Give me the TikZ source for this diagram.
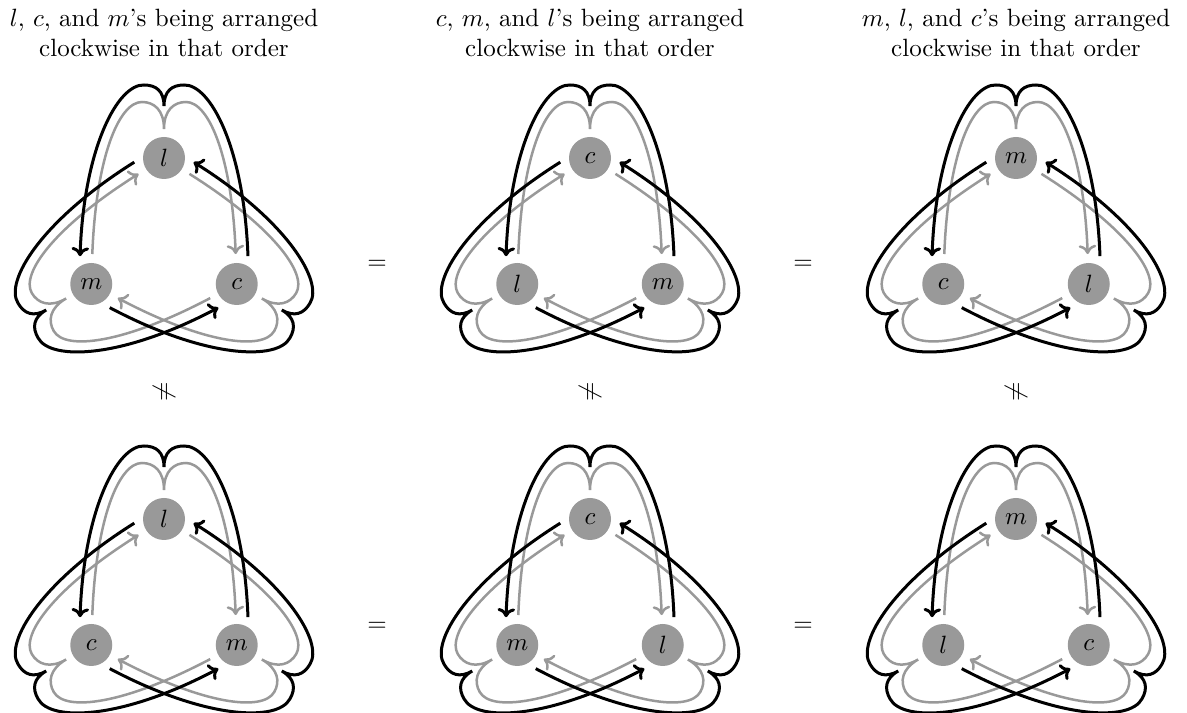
\documentclass[tikz,border=0pt]{standalone}
\usepackage{amsmath,amssymb}
\usepackage{tikz}
\usetikzlibrary{arrows.meta}
\tikzset{
  >={To[length=3.6pt,width=7pt]},
  vertex/.style={circle, fill=black!40, minimum size=16.8pt, inner sep=0pt, outer sep=3.6pt},
  outerline/.style={->, line width=1.2pt, black},
  innerline/.style={->, line width=1pt, black!40},
}
% gray loop from #2 to #3, turned by #1
\newcommand{\innerloop}[3]{%
  \begin{scope}[rotate=#1]
    \pgfmathtruncatemacro{\angS}{88+#1}
    \pgfmathtruncatemacro{\angE}{92+#1}
    \draw[innerline] (#2.\angS) .. controls (-68,85) and (-45,140) .. (-22,140)
                                .. controls (-10,140) and (0,132) .. (0,113)
                                .. controls (0,132) and (10,140) .. (22,140)
                                .. controls (45,140) and (68,85) .. (#3.\angE);
  \end{scope}}
% black loop from #2 to #3, turned by #1
\newcommand{\outerloop}[3]{%
  \begin{scope}[rotate=#1]
    \pgfmathtruncatemacro{\angS}{68+#1}
    \pgfmathtruncatemacro{\angE}{112+#1}
    \draw[outerline] (#2.\angS) .. controls (80,95) and (46,158) .. (20,157)
                                .. controls (8,157) and (0,151) .. (0,136)
                                .. controls (0,151) and (-8,157) .. (-20,157)
                                .. controls (-46,158) and (-80,95) .. (#3.\angE);
  \end{scope}}
% #1 centre, #2 prefix, #3 top, #4 left, #5 right
\newcommand{\ribbon}[5]{%
  \begin{scope}[shift={#1}]
    \node[vertex] (#2t) at ( 90:84) {$#3$};
    \node[vertex] (#2l) at (210:84) {$#4$};
    \node[vertex] (#2r) at (330:84) {$#5$};
    \innerloop{0}{#2l}{#2r}
    \innerloop{120}{#2r}{#2t}
    \innerloop{240}{#2t}{#2l}
    \outerloop{0}{#2r}{#2l}
    \outerloop{120}{#2t}{#2r}
    \outerloop{240}{#2l}{#2t}
  \end{scope}}

\begin{document}
\begin{tikzpicture}[x=0.4pt, y=0.4pt]
  \useasboundingbox (0,0) rectangle (1187,713);

  % Titles
  \node[align=center] (title1) at ( 164,680) {$l$, $c$, and $m$'s being arranged\\clockwise in that order};
  \node[align=center] (title2) at ( 590,680) {$c$, $m$, and $l$'s being arranged\\clockwise in that order};
  \node[align=center] (title3) at (1016,680) {$m$, $l$, and $c$'s being arranged\\clockwise in that order};

  % First row
  \ribbon{(164,471)}{p1}{l}{m}{c}
  \ribbon{(590,471)}{p2}{c}{l}{m}
  \ribbon{(1016,471)}{p3}{m}{c}{l}

  % Second row
  \ribbon{(164,110)}{q1}{l}{c}{m}
  \ribbon{(590,110)}{q2}{c}{m}{l}
  \ribbon{(1016,110)}{q3}{m}{l}{c}

  % Relations
  \node (eq1) at (377,448) {$=$};
  \node (eq2) at (803,448) {$=$};
  \node (eq3) at (377, 86) {$=$};
  \node (eq4) at (803, 86) {$=$};
  \node[rotate=90] (ne1) at ( 164,321) {$\neq$};
  \node[rotate=90] (ne2) at ( 590,321) {$\neq$};
  \node[rotate=90] (ne3) at (1016,321) {$\neq$};
\end{tikzpicture}
\end{document}
